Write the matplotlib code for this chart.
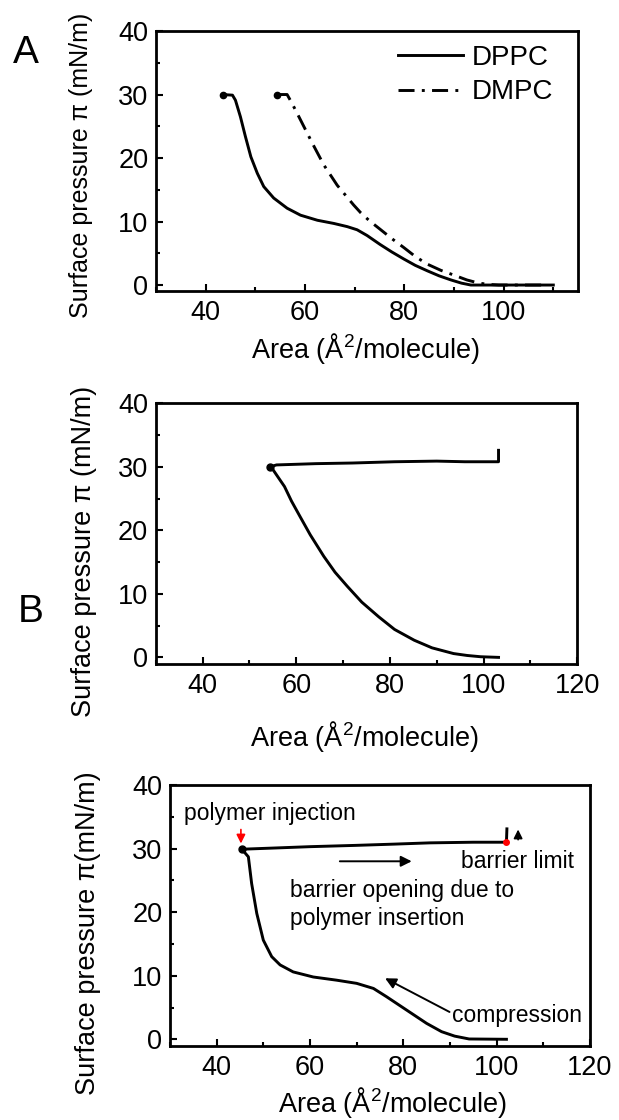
import numpy as np
import matplotlib.pyplot as plt
from matplotlib.ticker import MultipleLocator

plt.rcParams['font.family'] = ['Liberation Sans', 'DejaVu Sans']
plt.rcParams['mathtext.fontset'] = 'custom'
plt.rcParams['mathtext.rm'] = 'Liberation Sans'
plt.rcParams['mathtext.default'] = 'regular'

# panel A: isotherms of pure lipids
dppc_area = [43.4, 45.4, 46.0, 47.0, 48.0, 49.1, 50.4, 51.7, 53.7, 56.4, 59.1,
             62.5, 65.8, 68.5, 70.5, 72.5, 75.1, 77.5, 79.9, 82.2, 84.6, 87.0,
             89.4, 91.5, 93.4, 100.0, 110.0]
dppc_pi = [30.0, 29.9, 29.1, 26.5, 23.4, 20.2, 17.6, 15.5, 13.7, 12.1, 11.0,
           10.2, 9.7, 9.2, 8.7, 7.8, 6.4, 5.2, 4.1, 3.1, 2.25, 1.45,
           0.8, 0.3, 0.0, 0.0, 0.0]
dmpc_area = [54.4, 56.4, 57.4, 59.1, 61.5, 63.8, 66.5, 69.8, 71.2, 73.0, 75.1,
             77.5, 79.9, 82.2, 84.6, 87.4, 90.2, 92.6, 95.0, 97.0, 99.0, 108.0]
dmpc_pi = [30.0, 30.0, 28.6, 26.0, 22.3, 18.9, 15.7, 12.6, 11.4, 10.1, 8.8,
           7.3, 5.9, 4.5, 3.3, 2.3, 1.5, 0.8, 0.3, 0.1, 0.0, 0.0]

# panel B: compression then barrier opening
b_comp_area = [103.2, 99.4, 96.5, 93.6, 89.0, 85.2, 81.0, 77.6, 74.0, 70.9,
               68.3, 65.9, 63.0, 60.8, 59.0, 57.5, 56.2, 55.0, 54.4]
b_comp_pi = [0.0, 0.1, 0.3, 0.6, 1.5, 2.7, 4.4, 6.4, 8.7, 11.2,
             13.4, 15.9, 19.3, 22.2, 24.6, 26.9, 28.3, 29.6, 30.0]
b_open_area = [54.4, 55.8, 60.0, 64.2, 72.0, 81.0, 90.0, 96.0, 103.2, 103.2]
b_open_pi = [30.0, 30.3, 30.4, 30.5, 30.6, 30.8, 30.9, 30.8, 30.8, 32.6]

# panel C: compression, polymer injection, barrier opening
c_comp_area = [102.1, 94.1, 91.0, 88.2, 85.0, 80.7, 76.4, 73.6, 70.0, 65.7,
               60.7, 56.4, 53.6, 51.8, 50.0, 48.6, 47.5, 46.8, 45.4]
c_comp_pi = [0.0, 0.05, 0.5, 1.2, 2.5, 4.6, 6.7, 8.0, 8.8, 9.3,
             9.8, 10.6, 11.7, 13.0, 15.6, 19.8, 24.5, 28.7, 29.9]
c_open_area = [45.4, 52.8, 60.0, 69.6, 78.0, 85.7, 95.0, 102.1, 102.2]
c_open_pi = [29.9, 30.1, 30.3, 30.5, 30.7, 30.9, 31.0, 31.0, 33.1]

xticks_a = [40, 60, 80, 100]
xticks_bc = [40, 60, 80, 100, 120]
yticks = [0, 10, 20, 30, 40]

fig = plt.figure(figsize=(6.19, 11.2), dpi=100)
ax_a = fig.add_axes([0.252, 0.7404, 0.682, 0.2319])
ax_b = fig.add_axes([0.2515, 0.4071, 0.681, 0.2328])
ax_c = fig.add_axes([0.2746, 0.0661, 0.6785, 0.233])

lw = 2.1

def style_axes(ax, xlim, ylim, xticks, ylab, ylab_size, ylab_xy, xlab_xy):
    ax.set_xlim(*xlim)
    ax.set_ylim(*ylim)
    ax.set_xticks(xticks)
    ax.set_yticks(yticks)
    ax.xaxis.set_minor_locator(MultipleLocator(10))
    ax.yaxis.set_minor_locator(MultipleLocator(5))
    ax.tick_params(which='both', direction='in', top=False, right=False,
                   width=1.5, labelsize=19.5)
    ax.tick_params(which='major', length=5)
    ax.tick_params(which='minor', length=3)
    ax.tick_params(axis='x', pad=6.5)
    ax.tick_params(axis='y', pad=5.5)
    for s in ax.spines.values():
        s.set_linewidth(2)
    ax.set_xlabel('Area (Å$^2$/molecule)', fontsize=19.5, va='center')
    ax.xaxis.set_label_coords(*xlab_xy)
    ax.set_ylabel(ylab, fontsize=ylab_size, va='center')
    ax.yaxis.set_label_coords(*ylab_xy)

# --- A
ax_a.plot(dppc_area, dppc_pi, color='black', lw=lw, label='DPPC')
ax_a.plot(dmpc_area, dmpc_pi, color='black', lw=lw, label='DMPC',
          linestyle=(0, (5.5, 2.5, 1, 2.5)))
ax_a.plot(dppc_area[:1], dppc_pi[:1], 'o', color='black', markersize=4.5)
ax_a.plot(dmpc_area[:1], dmpc_pi[:1], 'o', color='black', markersize=4.5)
style_axes(ax_a, (30, 115), (-0.9, 40), xticks_a, 'Surface pressure π (mN/m)',
           18, (-0.178, 0.484), (0.497, -0.221))
ax_a.legend(loc='upper left', bbox_to_anchor=(0.573, 0.946), frameon=False,
            fontsize=20, handlelength=2.35, handletextpad=0.31,
            labelspacing=0.3, borderaxespad=0, borderpad=0)

# --- B
ax_b.plot(b_comp_area, b_comp_pi, color='black', lw=lw)
ax_b.plot(b_open_area, b_open_pi, color='black', lw=lw)
ax_b.plot(b_open_area[:1], b_open_pi[:1], 'o', color='black', markersize=5)
style_axes(ax_b, (30, 120), (-1.05, 40), xticks_bc, 'Surface pressure π (mN/m)',
           19.5, (-0.170, 0.433), (0.4955, -0.276))

# --- C
ax_c.plot(c_comp_area, c_comp_pi, color='black', lw=lw)
ax_c.plot(c_open_area, c_open_pi, color='black', lw=lw)
ax_c.plot(c_open_area[:1], c_open_pi[:1], 'o', color='black', markersize=5)
ax_c.plot(c_open_area[-2:-1], c_open_pi[-2:-1], 'o', color='red', markersize=4, zorder=5)
style_axes(ax_c, (30, 120), (-1.05, 40), xticks_bc, 'Surface pressure π(mN/m)',
           19.5, (-0.195, 0.433), (0.529, -0.218))

ax_c.annotate('', xy=(45.2, 30.8), xytext=(45.2, 33.0),
              arrowprops=dict(arrowstyle='-|>', color='red', lw=1.2,
                              mutation_scale=13, shrinkA=0, shrinkB=0))
ax_c.annotate('', xy=(104.6, 33.0), xytext=(104.6, 31.4),
              arrowprops=dict(arrowstyle='-|>', color='black', lw=1.2,
                              mutation_scale=13, shrinkA=0, shrinkB=0))
ax_c.annotate('', xy=(81.8, 28.0), xytext=(66.4, 28.0),
              arrowprops=dict(arrowstyle='-|>', color='black', lw=1.4,
                              mutation_scale=16, shrinkA=0, shrinkB=0))
ax_c.annotate('', xy=(76.1, 9.6), xytext=(89.9, 4.3),
              arrowprops=dict(arrowstyle='-|>', color='black', lw=1.4,
                              mutation_scale=16, shrinkA=0, shrinkB=0))
ax_c.text(33.0, 35.45, 'polymer injection', fontsize=16.5, va='center')
ax_c.text(92.4, 28.0, 'barrier limit', fontsize=16.5, va='center')
ax_c.text(55.7, 23.4, 'barrier opening due to', fontsize=16.5, va='center')
ax_c.text(55.7, 19.0, 'polymer insertion', fontsize=16.5, va='center')
ax_c.text(90.5, 3.8, 'compression', fontsize=16.5, va='center')

fig.text(0.042, 0.9527, 'A', fontsize=28, ha='center', va='center')
fig.text(0.050, 0.4536, 'B', fontsize=28, ha='center', va='center')

fig.savefig('out.png', dpi=100)
